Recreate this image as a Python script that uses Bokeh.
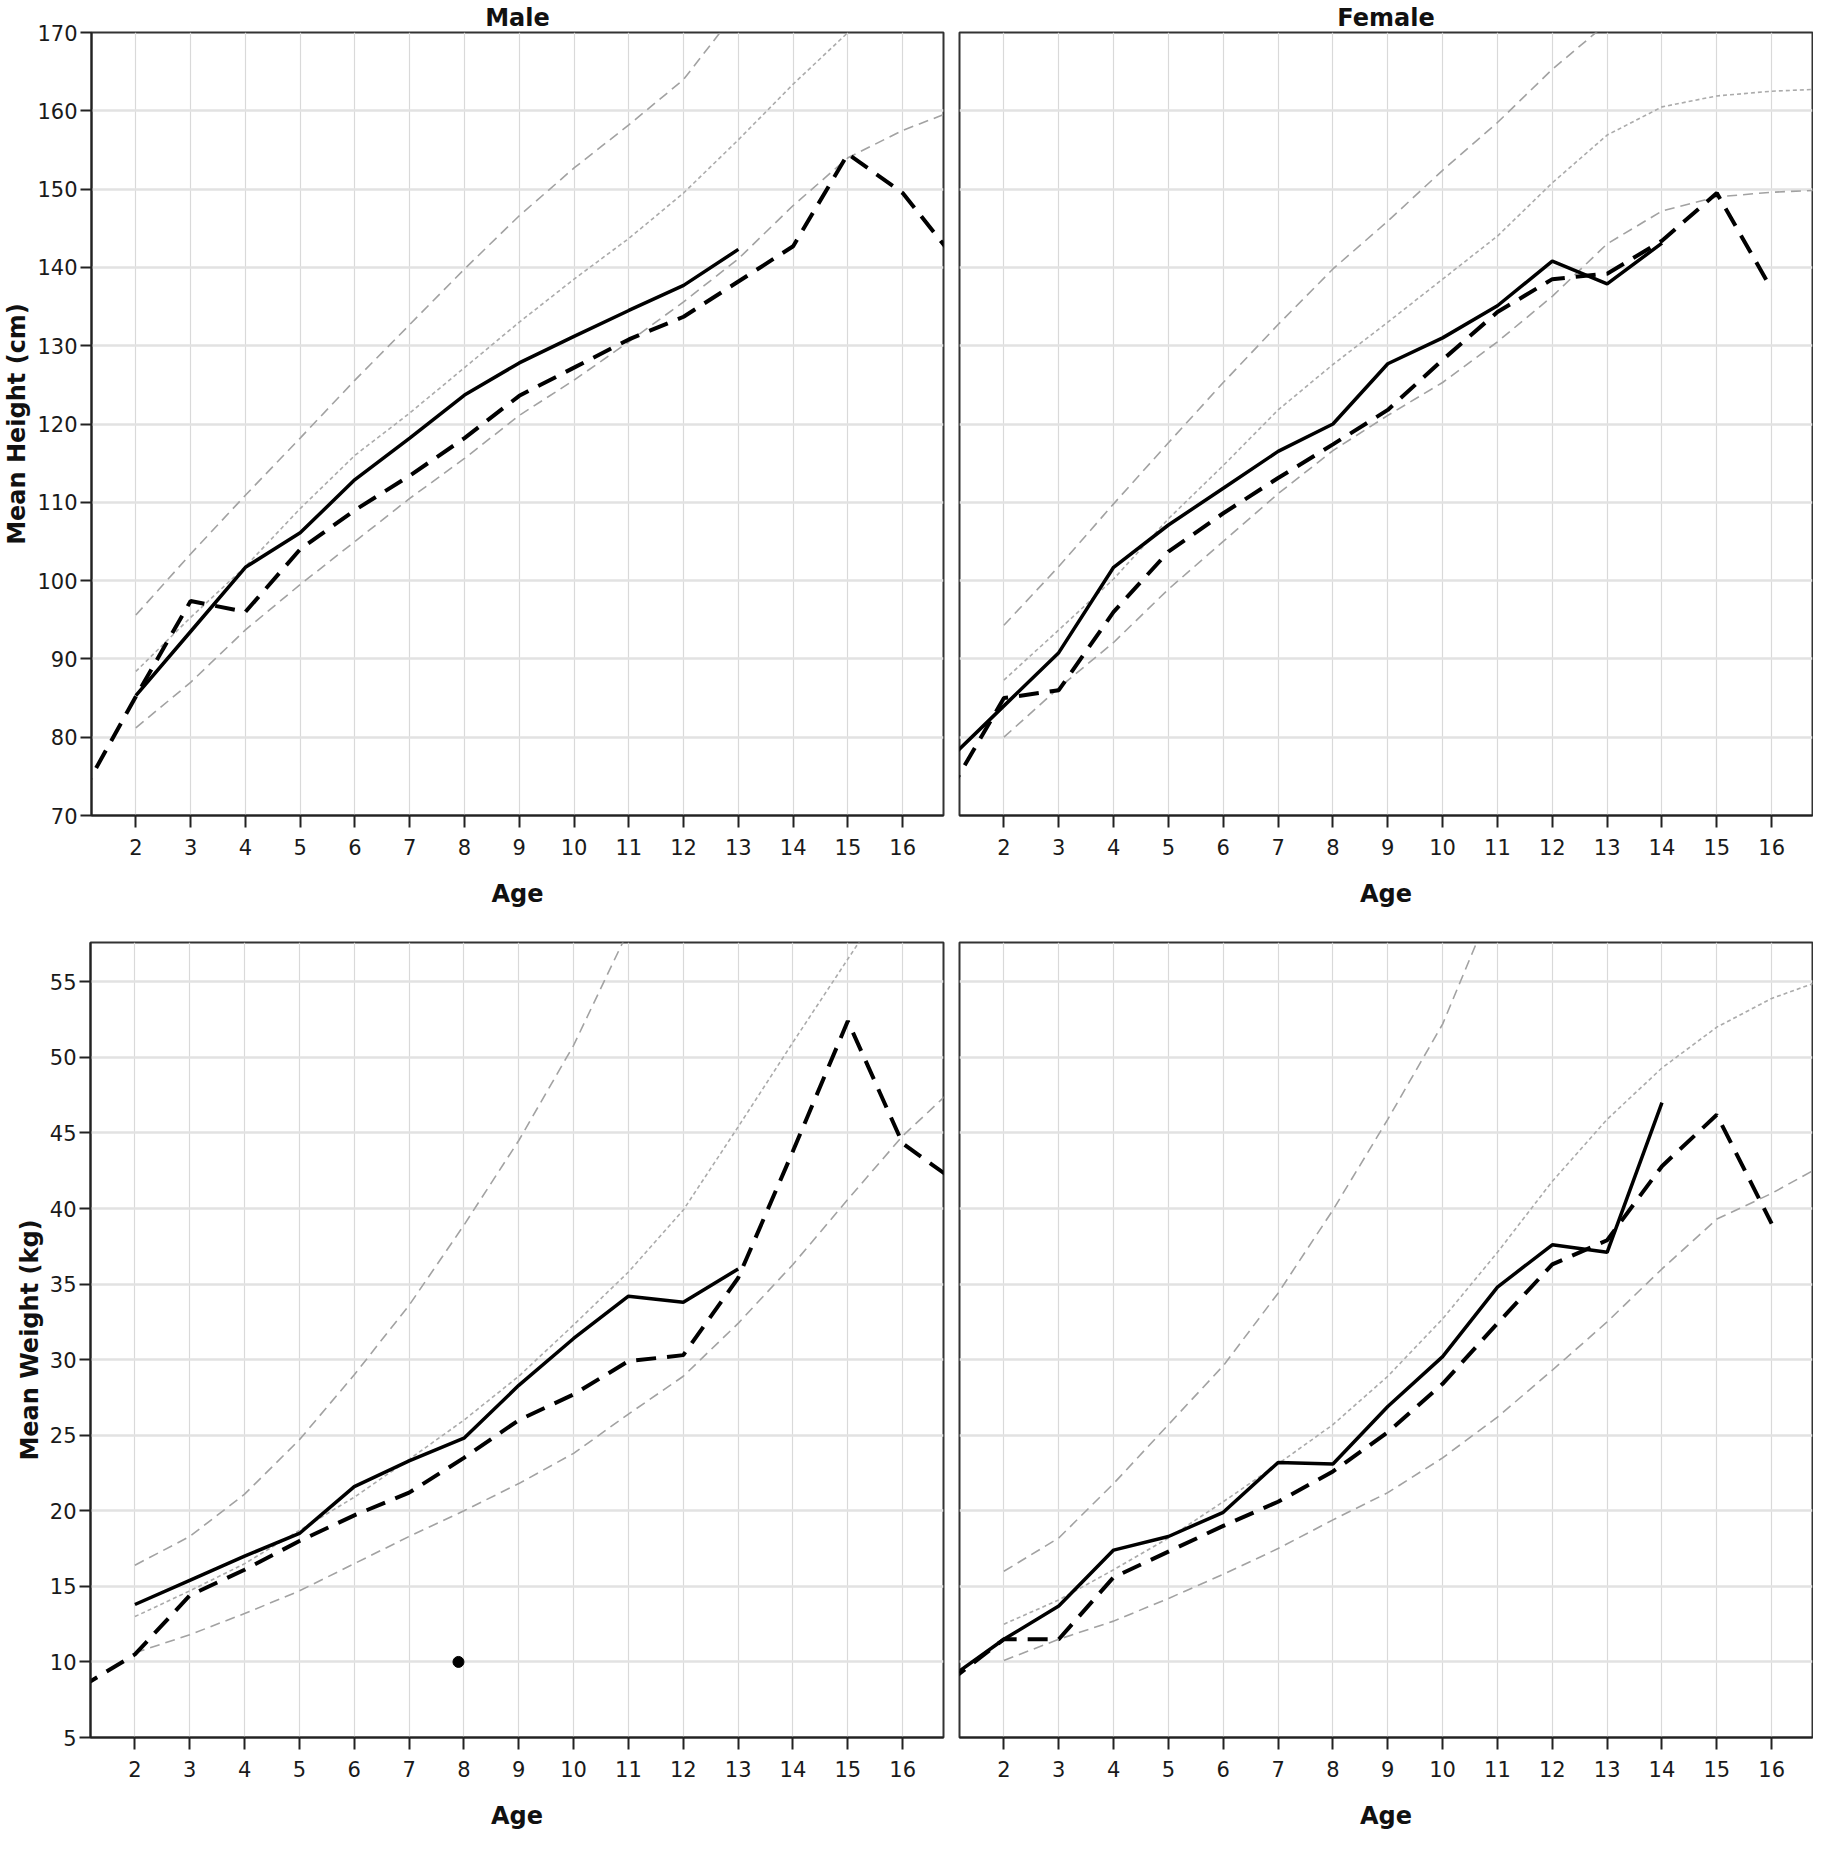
from bokeh.plotting import figure
from bokeh.layouts import column, row
from bokeh.models import Range1d, FixedTicker
from bokeh.embed import file_html
from bokeh.resources import INLINE

# ---------------- data ----------------
AGE_TICKS = list(range(2, 17))
HEIGHT_TICKS = list(range(70, 171, 10))
WEIGHT_TICKS = list(range(5, 56, 5))

# Male height
mh_solid_age = list(range(2, 14))
mh_solid = [85.3, 93.5, 101.7, 106.1, 112.9, 118.2, 123.7, 127.8, 131.2, 134.5, 137.7, 142.3]
mh_dash_age = list(range(1, 18))
mh_dash = [72.6, 85.2, 97.4, 96.0, 104.0, 109.0, 113.4, 118.2, 123.6, 127.2, 130.8, 133.7,
           138.2, 142.7, 154.5, 149.5, 140.7]
mh_upper_age = list(range(2, 14))
mh_upper = [95.6, 103.4, 110.9, 118.2, 125.6, 132.7, 139.8, 146.6, 152.7, 158.2, 164.0, 173.0]
mh_mid_age = list(range(2, 17))
mh_mid = [88.4, 95.3, 101.8, 109.2, 116.0, 121.4, 127.2, 133.0, 138.5, 143.7, 149.5, 156.3,
          163.4, 170.0, 176.0]
mh_lower_age = list(range(2, 18))
mh_lower = [81.2, 87.0, 93.7, 99.5, 105.0, 110.5, 115.6, 121.1, 125.6, 130.5, 135.6, 141.1,
            147.9, 154.0, 157.5, 160.2]

# Female height
fh_solid_age = list(range(1, 15))
fh_solid = [77.2, 84.0, 90.8, 101.7, 107.1, 111.8, 116.5, 120.0, 127.7, 131.0, 135.1, 140.8,
            137.9, 143.1]
fh_dash_age = list(range(1, 17))
fh_dash = [73.0, 85.0, 86.0, 96.0, 103.7, 108.6, 113.1, 117.4, 121.8, 128.2, 134.3, 138.5,
           139.2, 143.4, 149.5, 137.2]
fh_upper_age = list(range(2, 14))
fh_upper = [94.3, 101.8, 109.8, 117.6, 125.3, 132.7, 139.8, 145.9, 152.4, 158.5, 165.3, 171.2]
fh_mid_age = list(range(2, 18))
fh_mid = [87.3, 93.7, 100.2, 107.9, 114.7, 121.8, 127.6, 133.0, 138.5, 144.0, 150.8, 156.9,
          160.5, 161.9, 162.5, 162.8]
fh_lower_age = list(range(2, 18))
fh_lower = [80.0, 86.3, 92.1, 98.9, 105.0, 111.1, 116.6, 121.1, 125.3, 130.5, 136.3, 143.0,
            147.2, 149.0, 149.6, 149.9]

# Male weight
mw_solid_age = list(range(2, 14))
mw_solid = [13.8, 15.4, 17.0, 18.5, 21.6, 23.3, 24.8, 28.3, 31.4, 34.2, 33.8, 36.0]
mw_dash_age = list(range(1, 18))
mw_dash = [8.3, 10.5, 14.4, 16.1, 18.0, 19.7, 21.2, 23.5, 26.0, 27.7, 29.9, 30.3, 35.4, 43.8,
           52.4, 44.3, 41.7]
mw_upper_age = list(range(2, 12))
mw_upper = [16.4, 18.3, 21.1, 24.7, 29.0, 33.6, 38.9, 44.5, 50.8, 58.4]
mw_mid_age = list(range(2, 17))
mw_mid = [13.0, 14.7, 16.5, 18.7, 20.9, 23.4, 26.0, 28.9, 32.3, 35.8, 39.9, 45.4, 51.0, 56.5, 62.0]
mw_lower_age = list(range(2, 18))
mw_lower = [10.6, 11.8, 13.2, 14.7, 16.5, 18.3, 20.0, 21.8, 23.8, 26.4, 28.9, 32.4, 36.3, 40.6,
            44.8, 48.2]
mw_point_age = [7.9]
mw_point = [10.0]

# Female weight
fw_solid_age = list(range(1, 15))
fw_solid = [8.9, 11.5, 13.7, 17.4, 18.3, 19.9, 23.2, 23.1, 26.9, 30.2, 34.8, 37.6, 37.1, 47.0]
fw_dash_age = list(range(1, 17))
fw_dash = [8.7, 11.5, 11.5, 15.6, 17.3, 19.0, 20.6, 22.6, 25.2, 28.4, 32.4, 36.3, 37.9, 42.8,
           46.2, 39.0]
fw_upper_age = list(range(2, 12))
fw_upper = [16.0, 18.2, 21.8, 25.7, 29.6, 34.4, 39.9, 45.9, 52.2, 60.9]
fw_mid_age = list(range(2, 18))
fw_mid = [12.5, 14.1, 16.1, 18.2, 20.6, 23.1, 25.7, 28.9, 32.7, 37.1, 41.8, 45.9, 49.3, 52.0,
          53.9, 55.2]
fw_lower_age = list(range(2, 18))
fw_lower = [10.1, 11.5, 12.7, 14.2, 15.8, 17.5, 19.4, 21.2, 23.5, 26.2, 29.3, 32.5, 36.0, 39.3,
            41.0, 43.0]

# ---------------- styling ----------------
FONT = "DejaVu Sans"
X_MIN, X_MAX = 1.19, 16.745
FRAME_W = 853
LEFT_B, GAP_L, GAP_R, RIGHT_B = 90, 8, 8, 1
LEFT_W = LEFT_B + FRAME_W + GAP_L
RIGHT_W = GAP_R + FRAME_W + RIGHT_B
TOP_BORDER, TOP_FRAME, BOTTOM_BORDER = 30, 785, 95
BOT_BORDER, BOT_FRAME = 32, 795
TOP_H = TOP_BORDER + TOP_FRAME + BOTTOM_BORDER
BOT_H = BOT_BORDER + BOT_FRAME + BOTTOM_BORDER


def make_panel(width, height, y_lo, y_hi, y_ticks, left_b, right_b, top_b, title=None, y_label=None):
    kw = dict(width=width, height=height,
              x_range=Range1d(X_MIN, X_MAX), y_range=Range1d(y_lo, y_hi),
              output_backend="svg", toolbar_location=None,
              min_border_left=left_b, min_border_right=right_b,
              min_border_top=top_b, min_border_bottom=BOTTOM_BORDER,
              background_fill_color="white", border_fill_color="white")
    if title:
        kw["title"] = title
    p = figure(**kw)
    if title:
        p.title.align = "center"
        p.title.text_font = FONT
        p.title.text_font_size = "24px"
        p.title.text_font_style = "bold"
        p.title.text_color = "#111111"
        p.title.standoff = 2

    p.outline_line_color = "#333333"
    p.outline_line_width = 2
    p.outline_line_alpha = 1.0

    # x axis
    p.xaxis.ticker = FixedTicker(ticks=AGE_TICKS)
    p.xaxis.axis_label = "Age"
    p.xaxis.axis_label_text_font = FONT
    p.xaxis.axis_label_text_font_size = "24px"
    p.xaxis.axis_label_text_font_style = "bold"
    p.xaxis.axis_label_text_color = "#111111"
    p.xaxis.axis_label_standoff = 22
    p.xaxis.major_label_text_font = FONT
    p.xaxis.major_label_text_font_size = "21px"
    p.xaxis.major_label_text_color = "#1a1a1a"
    p.xaxis.major_label_standoff = 11
    p.xaxis.major_tick_out = 12
    p.xaxis.major_tick_in = 0
    p.xaxis.minor_tick_line_color = None
    p.xaxis.axis_line_color = "#222222"
    p.xaxis.axis_line_width = 2
    p.xaxis.major_tick_line_color = "#222222"
    p.xaxis.major_tick_line_width = 2

    # y axis
    if y_label:
        p.yaxis.ticker = FixedTicker(ticks=y_ticks)
        p.yaxis.axis_label = y_label
        p.yaxis.axis_label_text_font = FONT
        p.yaxis.axis_label_text_font_size = "24px"
        p.yaxis.axis_label_text_font_style = "bold"
        p.yaxis.axis_label_text_color = "#111111"
        p.yaxis.axis_label_standoff = 3
        p.yaxis.major_label_text_font = FONT
        p.yaxis.major_label_text_font_size = "21px"
        p.yaxis.major_label_text_color = "#1a1a1a"
        p.yaxis.major_label_standoff = 3
        p.yaxis.major_tick_out = 11
        p.yaxis.major_tick_in = 0
        p.yaxis.minor_tick_line_color = None
        p.yaxis.axis_line_color = "#222222"
        p.yaxis.axis_line_width = 2
        p.yaxis.major_tick_line_color = "#222222"
        p.yaxis.major_tick_line_width = 2
    else:
        p.yaxis.visible = False

    # grids
    p.xgrid.ticker = FixedTicker(ticks=AGE_TICKS)
    p.ygrid.ticker = FixedTicker(ticks=y_ticks)
    p.xgrid.grid_line_color = "#d9d9d9"
    p.xgrid.grid_line_width = 1.2
    p.ygrid.grid_line_color = "#e2e2e2"
    p.ygrid.grid_line_width = 2.5
    return p


def add_refs(p, up_x, up_y, mid_x, mid_y, lo_x, lo_y):
    p.line(up_x, up_y, line_color="#a2a2a2", line_width=1.6, line_dash="10 6")
    p.line(mid_x, mid_y, line_color="#ababab", line_width=1.6, line_dash="4 3")
    p.line(lo_x, lo_y, line_color="#a2a2a2", line_width=1.6, line_dash="10 6")


def add_series(p, s_x, s_y, d_x, d_y):
    p.line(d_x, d_y, line_color="black", line_width=4, line_dash="20 11")
    p.line(s_x, s_y, line_color="black", line_width=3.5)


p1 = make_panel(LEFT_W, TOP_H, 70, 170, HEIGHT_TICKS, LEFT_B, GAP_L, TOP_BORDER,
                title="Male", y_label="Mean Height (cm)")
add_refs(p1, mh_upper_age, mh_upper, mh_mid_age, mh_mid, mh_lower_age, mh_lower)
add_series(p1, mh_solid_age, mh_solid, mh_dash_age, mh_dash)

p2 = make_panel(RIGHT_W, TOP_H, 70, 170, HEIGHT_TICKS, GAP_R, RIGHT_B, TOP_BORDER, title="Female")
add_refs(p2, fh_upper_age, fh_upper, fh_mid_age, fh_mid, fh_lower_age, fh_lower)
add_series(p2, fh_solid_age, fh_solid, fh_dash_age, fh_dash)

p3 = make_panel(LEFT_W, BOT_H, 5, 57.6, WEIGHT_TICKS, LEFT_B, GAP_L, BOT_BORDER,
                y_label="Mean Weight (kg)")
add_refs(p3, mw_upper_age, mw_upper, mw_mid_age, mw_mid, mw_lower_age, mw_lower)
add_series(p3, mw_solid_age, mw_solid, mw_dash_age, mw_dash)
p3.scatter(mw_point_age, mw_point, size=11, color="black")

p4 = make_panel(RIGHT_W, BOT_H, 5, 57.6, WEIGHT_TICKS, GAP_R, RIGHT_B, BOT_BORDER)
add_refs(p4, fw_upper_age, fw_upper, fw_mid_age, fw_mid, fw_lower_age, fw_lower)
add_series(p4, fw_solid_age, fw_solid, fw_dash_age, fw_dash)

layout = column(row(p1, p2), row(p3, p4))

with open("out.html", "w") as f:
    f.write(file_html(layout, INLINE))
